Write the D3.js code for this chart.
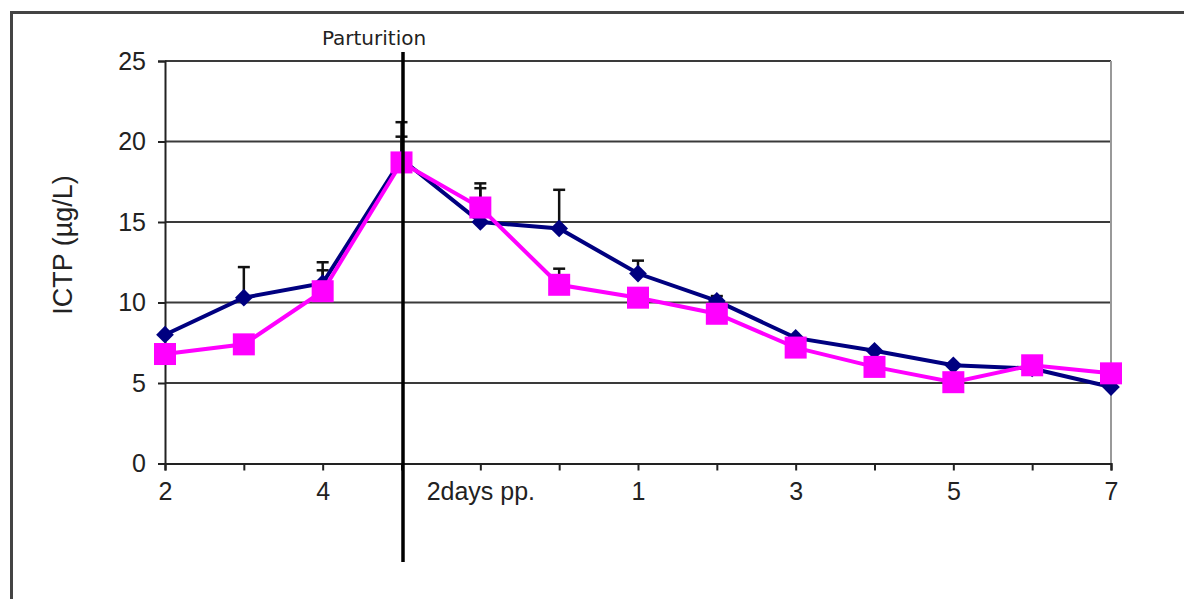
<!DOCTYPE html>
<html>
<head>
<meta charset="utf-8">
<script src="https://cdn.jsdelivr.net/npm/d3@7"></script>
<style>
  body { margin: 0; background: #fff; }
  text { font-family: "Liberation Sans", Arial, sans-serif; fill: #222; }
</style>
</head>
<body>
<div id="chart"></div>
<script>
var categories = ["2", "3", "4", "5", "2days pp.", "0", "1", "2", "3", "4", "5", "6", "7"];
var tickLabels = ["2", "", "4", "", "2days pp.", "", "1", "", "3", "", "5", "", "7"];
var seriesA = [8.0, 10.3, 11.2, 18.9, 15.0, 14.6, 11.8, 10.1, 7.8, 7.0, 6.1, 5.9, 4.75];
var seriesAErr = [0, 1.9, 1.3, 2.3, 2.4, 2.4, 0.8, 0.3, 0, 0, 0, 0, 0];
var seriesB = [6.8, 7.4, 10.7, 18.7, 15.9, 11.1, 10.3, 9.3, 7.2, 6.0, 5.05, 6.1, 5.6];
var seriesBErr = [0, 0, 1.3, 1.6, 1.2, 1.0, 0, 0, 0, 0, 0, 0, 0];
var yTicks = [0, 5, 10, 15, 20, 25];

var width = 1184,
    height = 599,
    plotLeft = 165, plotRight = 1111,
    plotTop = 61, plotBottom = 463.5,
    navy = "#000080",
    pink = "#ff00ff";

var svg = d3.select("#chart").append("svg")
  .attr("width", width)
  .attr("height", height);

// outer frame, only left and top edges are inside the picture
svg.append("rect")
  .attr("x", 11.5).attr("y", 12.5)
  .attr("width", 1400).attr("height", 800)
  .attr("fill", "none")
  .attr("stroke", "#444")
  .attr("stroke-width", 3);

var x = d3.scalePoint()
  .domain(d3.range(categories.length))
  .range([plotLeft, plotRight]);

var y = d3.scaleLinear()
  .domain([0, 25])
  .range([plotBottom, plotTop]);

// gridlines
svg.append("g")
  .selectAll("line")
  .data(yTicks.filter(function (d) { return d > 0; }))
  .enter()
  .append("line")
  .attr("x1", plotLeft).attr("x2", plotRight)
  .attr("y1", function (d) { return y(d); })
  .attr("y2", function (d) { return y(d); })
  .attr("stroke", "#3a3a3a")
  .attr("stroke-width", 2.2);

// right edge of plot
svg.append("line")
  .attr("x1", plotRight).attr("x2", plotRight)
  .attr("y1", plotTop).attr("y2", plotBottom)
  .attr("stroke", "#999")
  .attr("stroke-width", 2);

// y axis
var yAxis = svg.append("g")
  .attr("transform", "translate(" + plotLeft + ",0)")
  .call(d3.axisLeft(y).tickValues(yTicks).tickSize(7).tickPadding(12));
yAxis.select(".domain").attr("stroke", "#222").attr("stroke-width", 2);
yAxis.selectAll(".tick line").attr("stroke", "#222").attr("stroke-width", 2);
yAxis.selectAll("text").style("font-size", "25px").attr("fill", "#222");

// x axis
var xAxis = svg.append("g")
  .attr("transform", "translate(0," + plotBottom + ")")
  .call(d3.axisBottom(x).tickSize(7).tickPadding(12)
    .tickFormat(function (i) { return tickLabels[i]; }));
xAxis.select(".domain").attr("stroke", "#222").attr("stroke-width", 2.2);
xAxis.selectAll(".tick line").attr("stroke", "#222").attr("stroke-width", 2);
xAxis.selectAll("text").style("font-size", "25px").attr("fill", "#222");

// y axis title
svg.append("text")
  .attr("transform", "translate(72,245) rotate(-90)")
  .attr("text-anchor", "middle")
  .style("font-size", "27px")
  .text("ICTP (\u00b5g/L)");

// error bars (upper only)
function errorBars(values, errs) {
  var g = svg.append("g");
  values.forEach(function (v, i) {
    if (!errs[i]) return;
    var cx = x(i), y0 = y(v), y1 = y(v + errs[i]);
    g.append("line")
      .attr("x1", cx).attr("x2", cx).attr("y1", y0).attr("y2", y1)
      .attr("stroke", "#111").attr("stroke-width", 2.5);
    g.append("line")
      .attr("x1", cx - 6).attr("x2", cx + 6).attr("y1", y1).attr("y2", y1)
      .attr("stroke", "#111").attr("stroke-width", 2.5);
  });
}
errorBars(seriesA, seriesAErr);
errorBars(seriesB, seriesBErr);

var line = d3.line()
  .x(function (d, i) { return x(i); })
  .y(function (d) { return y(d); });

// navy series with diamonds
svg.append("path")
  .datum(seriesA)
  .attr("d", line)
  .attr("fill", "none")
  .attr("stroke", navy)
  .attr("stroke-width", 4);

svg.append("g")
  .selectAll("path")
  .data(seriesA)
  .enter()
  .append("path")
  .attr("d", d3.symbol().type(d3.symbolDiamond2).size(200))
  .attr("transform", function (d, i) { return "translate(" + x(i) + "," + y(d) + ")"; })
  .attr("fill", navy);

// magenta series with squares
svg.append("path")
  .datum(seriesB)
  .attr("d", line)
  .attr("fill", "none")
  .attr("stroke", pink)
  .attr("stroke-width", 4);

svg.append("g")
  .selectAll("rect")
  .data(seriesB)
  .enter()
  .append("rect")
  .attr("x", function (d, i) { return x(i) - 11; })
  .attr("y", function (d) { return y(d) - 11; })
  .attr("width", 22)
  .attr("height", 22)
  .attr("fill", pink);

// parturition marker
svg.append("line")
  .attr("x1", 403).attr("x2", 403)
  .attr("y1", 52).attr("y2", 562)
  .attr("stroke", "#000")
  .attr("stroke-width", 3.5);

svg.append("text")
  .attr("x", 374).attr("y", 45)
  .attr("text-anchor", "middle")
  .style("font-family", "'DejaVu Sans', Verdana, sans-serif")
  .style("font-size", "20px")
  .attr("fill", "#3a2f3a")
  .text("Parturition");
</script>
</body>
</html>
